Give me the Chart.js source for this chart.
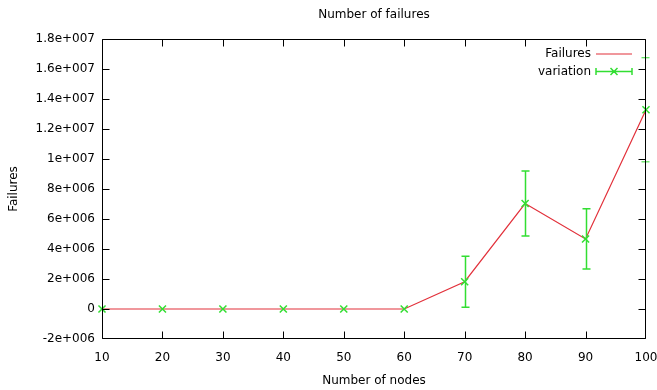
<!DOCTYPE html>
<html>
<head>
<meta charset="utf-8">
<script src="https://cdn.jsdelivr.net/npm/chart.js@4.4.1/dist/chart.umd.min.js"></script>
<style>
  html, body { margin: 0; padding: 0; background: #fff; }
  canvas { display: block; }
</style>
</head>
<body>
<canvas id="chart" width="657" height="390"></canvas>
<script>
// Number of nodes (x) and measured failures with their spread
const nodes = [10, 20, 30, 40, 50, 60, 70, 80, 90, 100];
const failures = [0, 0, 0, 0, 0, 0, 1820000, 7030000, 4670000, 13280000];
const variation = [0, 0, 0, 0, 0, 0, 1700000, 2170000, 2010000, 3470000];

const seriesNames = ['Failures', 'variation'];
const RED = 'rgb(226,48,58)';
const GREEN = 'rgb(50,222,50)';
const FONT = 'DejaVu Sans';

// gnuplot-style %g with a three digit exponent, e.g. 1.2e+007
function gfmt(v) {
  const n = Number(Number(v).toPrecision(6));
  if (n === 0) return '0';
  if (Math.abs(n) < 1e6) return String(n);
  return n.toExponential().replace(/e([+-])(\d+)/, (m, s, d) => 'e' + s + d.padStart(3, '0'));
}

const pts = (arr) => nodes.map((x, i) => ({ x: x, y: arr[i] }));

// frame, inward ticks on all four sides, error bars and the legend
const framePlugin = {
  id: 'frame',
  afterDatasetsDraw(chart) {
    const ctx = chart.ctx;
    const { left, right, top, bottom } = chart.chartArea;
    const xs = chart.scales.x, ys = chart.scales.y;
    const L = left + 0.5, R = right - 0.5, T = top + 0.5, B = bottom - 0.5;
    const snapX = (p) => Math.min(R, Math.max(L, Math.round(p) + 0.5));
    const snapY = (p) => Math.min(B, Math.max(T, Math.round(p) + 0.5));

    // error bars for the variation series
    ctx.save();
    ctx.strokeStyle = GREEN;
    nodes.forEach((n, i) => {
      if (!variation[i]) return;
      const px = snapX(xs.getPixelForValue(n));
      const y1 = ys.getPixelForValue(failures[i] + variation[i]);
      const y2 = ys.getPixelForValue(failures[i] - variation[i]);
      // a bar lying on the frame stays hidden under it
      ctx.lineWidth = (px === L || px === R) ? 1 : 1.5;
      ctx.beginPath();
      ctx.moveTo(px, y1); ctx.lineTo(px, y2);
      ctx.moveTo(px - 4, y1); ctx.lineTo(px + 4, y1);
      ctx.moveTo(px - 4, y2); ctx.lineTo(px + 4, y2);
      ctx.stroke();
    });
    ctx.restore();

    // border box and tick marks
    ctx.save();
    ctx.strokeStyle = '#000';
    ctx.lineWidth = 1;
    ctx.beginPath();
    ctx.rect(L, T, R - L, B - T);
    const tl = 7;
    ys.ticks.forEach(t => {
      const py = snapY(ys.getPixelForValue(t.value));
      ctx.moveTo(L, py); ctx.lineTo(L + tl, py);
      ctx.moveTo(R, py); ctx.lineTo(R - tl, py);
    });
    xs.ticks.forEach(t => {
      const px = snapX(xs.getPixelForValue(t.value));
      ctx.moveTo(px, B); ctx.lineTo(px, B - tl);
      ctx.moveTo(px, T); ctx.lineTo(px, T + tl);
    });
    ctx.stroke();
    ctx.restore();

    // legend: label on the left, sample on the right
    ctx.save();
    ctx.font = '12px "' + FONT + '"';
    ctx.fillStyle = '#000';
    ctx.textAlign = 'right';
    ctx.textBaseline = 'middle';
    const textX = right - 55, s1 = right - 50, s2 = right - 14;
    const rows = [top + 15, top + 32.5];
    ctx.fillText(seriesNames[0], textX, rows[0]);
    ctx.fillText(seriesNames[1], textX, rows[1]);
    ctx.strokeStyle = RED;
    ctx.lineWidth = 1.2;
    ctx.beginPath();
    ctx.moveTo(s1, rows[0]); ctx.lineTo(s2, rows[0]);
    ctx.stroke();
    ctx.strokeStyle = GREEN;
    ctx.lineWidth = 1.5;
    ctx.beginPath();
    ctx.moveTo(s1, rows[1]); ctx.lineTo(s2, rows[1]);
    ctx.moveTo(s1, rows[1] - 3.5); ctx.lineTo(s1, rows[1] + 3.5);
    ctx.moveTo(s2, rows[1] - 3.5); ctx.lineTo(s2, rows[1] + 3.5);
    const cx = (s1 + s2) / 2, d = 3.5;
    ctx.moveTo(cx - d, rows[1] - d); ctx.lineTo(cx + d, rows[1] + d);
    ctx.moveTo(cx - d, rows[1] + d); ctx.lineTo(cx + d, rows[1] - d);
    ctx.stroke();
    ctx.restore();
  }
};

Chart.defaults.font.family = FONT;
Chart.defaults.font.size = 12;
Chart.defaults.color = '#000';

new Chart(document.getElementById('chart'), {
  type: 'line',
  data: {
    datasets: [
      {
        label: seriesNames[0],
        data: pts(failures),
        borderColor: RED,
        borderWidth: 1.2,
        pointRadius: 0,
        tension: 0,
        clip: false,
        order: 2
      },
      {
        label: seriesNames[1],
        data: pts(failures),
        showLine: false,
        pointStyle: 'crossRot',
        pointRadius: 5,
        pointBorderWidth: 1.5,
        borderColor: GREEN,
        backgroundColor: GREEN,
        clip: false,
        order: 1
      }
    ]
  },
  options: {
    responsive: false,
    animation: false,
    devicePixelRatio: 1,
    layout: { padding: { left: 0, right: 11, top: 0, bottom: 0 } },
    plugins: {
      legend: { display: false },
      tooltip: { enabled: false },
      title: {
        display: true,
        text: 'Number of failures',
        fullSize: false,
        font: { size: 12, weight: 'normal' },
        color: '#000',
        padding: { top: 8, bottom: 16.6 }
      }
    },
    scales: {
      x: {
        type: 'linear',
        min: 10,
        max: 100,
        grid: { display: false, drawTicks: false },
        border: { display: false },
        ticks: { stepSize: 10, padding: 12, maxRotation: 0, autoSkip: false, color: '#000' },
        title: { display: true, text: 'Number of nodes', color: '#000', padding: { top: 0, bottom: 2 } },
        afterFit(scale) {
          scale.height = 51;
          scale.paddingLeft = 0;
          scale.paddingRight = 0;
        }
      },
      y: {
        type: 'linear',
        min: -2000000,
        max: 18000000,
        grid: { display: false, drawTicks: false },
        border: { display: false },
        ticks: { stepSize: 2000000, padding: 7, color: '#000', callback: (v) => gfmt(v) },
        title: { display: true, text: 'Failures', color: '#000', padding: { top: 7, bottom: 0 } },
        afterFit(scale) {
          scale.width = 102;
          scale.paddingTop = 0;
          scale.paddingBottom = 0;
        }
      }
    }
  },
  plugins: [framePlugin]
});
</script>
</body>
</html>
